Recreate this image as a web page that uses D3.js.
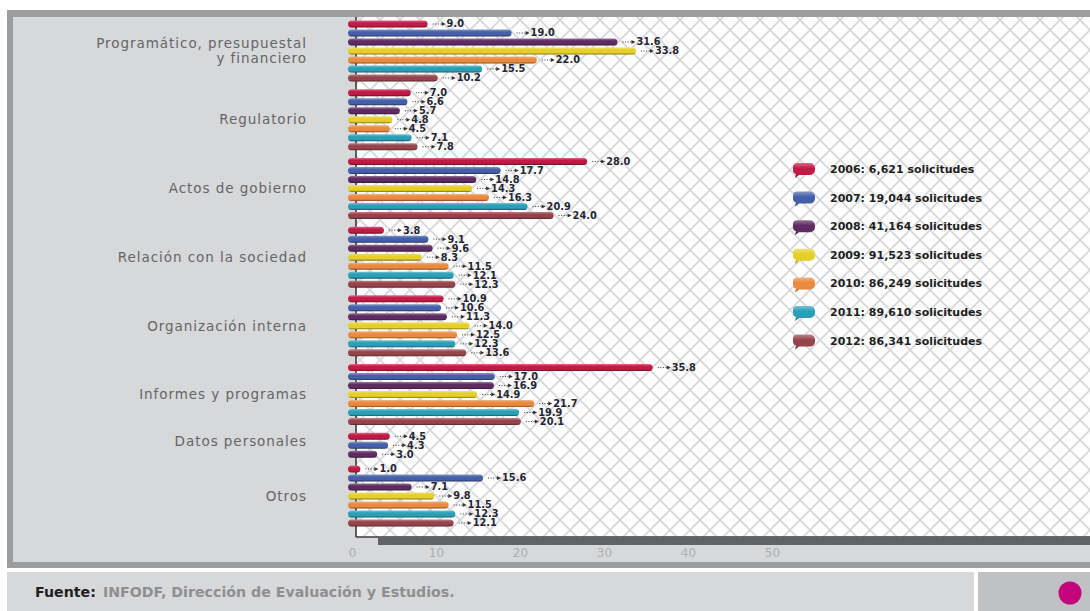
<!DOCTYPE html>
<html>
<head>
<meta charset="utf-8">
<script src="https://cdn.jsdelivr.net/npm/d3@7"></script>
<style>
  html, body { margin: 0; padding: 0; background: #ffffff; }
  svg { display: block; }
</style>
</head>
<body>
<svg id="chart" width="1090" height="611"></svg>
<script>
// Share of requests by subject, per year (percent)
const categories = [
  ["Programático, presupuestal", "y financiero"],
  ["Regulatorio"],
  ["Actos de gobierno"],
  ["Relación con la sociedad"],
  ["Organización interna"],
  ["Informes y programas"],
  ["Datos personales"],
  ["Otros"]
];
const years = ["2006", "2007", "2008", "2009", "2010", "2011", "2012"];
const requests = ["6,621", "19,044", "41,164", "91,523", "86,249", "89,610", "86,341"];
const s2006 = [9.0, 7.0, 28.0, 3.8, 10.9, 35.8, 4.5, 1.0];
const s2007 = [19.0, 6.6, 17.7, 9.1, 10.6, 17.0, 4.3, 15.6];
const s2008 = [31.6, 5.7, 14.8, 9.6, 11.3, 16.9, 3.0, 7.1];
const s2009 = [33.8, 4.8, 14.3, 8.3, 14.0, 14.9, null, 9.8];
const s2010 = [22.0, 4.5, 16.3, 11.5, 12.5, 21.7, null, 11.5];
const s2011 = [15.5, 7.1, 20.9, 12.1, 12.3, 19.9, null, 12.3];
const s2012 = [10.2, 7.8, 24.0, 12.3, 13.6, 20.1, null, 12.1];
const xTicks = [0, 10, 20, 30, 40, 50];
const source = "INFODF, Dirección de Evaluación y Estudios.";

const series = [s2006, s2007, s2008, s2009, s2010, s2011, s2012];
const colors = ["#c01a45", "#4560a8", "#5e2b62", "#e5cf28", "#e98a3e", "#2a9fb8", "#96444c"];

const svg = d3.select("#chart");
const W = 1090, H = 611;

// ---- panels & frame ----
const frameGray = "#9c9d9f";
const panelGray = "#d6d8da";
svg.append("rect").attr("x", 0).attr("y", 0).attr("width", W).attr("height", H).attr("fill", "#fff");
svg.append("rect").attr("x", 7).attr("y", 10).attr("width", W - 7).attr("height", 558).attr("fill", frameGray);
svg.append("rect").attr("x", 13).attr("y", 17).attr("width", W - 13).attr("height", 545).attr("fill", panelGray);

// crosshatch background of the plot
const defs = svg.append("defs");
const pat = defs.append("pattern").attr("id", "hatch")
  .attr("patternUnits", "userSpaceOnUse").attr("width", 20).attr("height", 20);
pat.append("rect").attr("width", 20).attr("height", 20).attr("fill", "#fefefe");
pat.append("path").attr("d", "M0,0L20,20M20,0L0,20")
  .attr("stroke", "#d6d7d9").attr("stroke-width", 1.7).attr("fill", "none");
const soft = defs.append("filter").attr("id", "soft");
soft.append("feGaussianBlur").attr("stdDeviation", 0.55);

const plotL = 356, plotT = 17, plotB = 537;
svg.append("rect").attr("x", plotL).attr("y", plotT).attr("width", W - plotL).attr("height", plotB - plotT)
  .attr("fill", "url(#hatch)").attr("filter", "url(#soft)");

// footer
svg.append("rect").attr("x", 7).attr("y", 572).attr("width", 967).attr("height", 39).attr("fill", panelGray);
svg.append("rect").attr("x", 978).attr("y", 572).attr("width", W - 978).attr("height", 39).attr("fill", "#bfc1c3");
svg.append("circle").attr("cx", 1070).attr("cy", 593).attr("r", 11.5).attr("fill", "#c4057c");
const foot = svg.append("text").attr("x", 35).attr("y", 597)
  .attr("font-family", "'DejaVu Sans', sans-serif").attr("font-weight", "bold").attr("font-size", 14.2);
foot.append("tspan").attr("fill", "#1f1f1f").text("Fuente:");
foot.append("tspan").attr("fill", "#8e8f91").attr("dx", 7).text(source);

// ---- scales ----
const x = d3.scaleLinear().domain([0, 50]).range([352, 772]);

// rows: one per category/year with a value, plus a gap between categories
const gapUnits = 0.635;
const rows = [];
let k = 0;
categories.forEach((c, ci) => {
  series.forEach((s, yi) => {
    if (s[ci] != null) {
      rows.push({ ci, yi, value: s[ci], slot: k + ci * gapUnits });
      k++;
    }
  });
});
const maxSlot = d3.max(rows, d => d.slot);
const y = d3.scaleLinear().domain([0, maxSlot]).range([24, 523]);

// axis frame
svg.append("line").attr("x1", plotL).attr("x2", plotL).attr("y1", plotT).attr("y2", plotB)
  .attr("stroke", "#3a3a3c").attr("stroke-width", 1.6);
svg.append("line").attr("x1", plotL).attr("x2", W).attr("y1", plotB).attr("y2", plotB)
  .attr("stroke", "#3a3a3c").attr("stroke-width", 1.6);
svg.append("rect").attr("x", 378).attr("y", plotB).attr("width", W - 378).attr("height", 8).attr("fill", "#606264");

const axis = svg.append("g").attr("transform", `translate(0,${546})`)
  .call(d3.axisBottom(x).tickValues(xTicks).tickSize(0).tickPadding(2).tickFormat(d3.format("d")));
axis.select(".domain").remove();
axis.selectAll("text").attr("fill", "#aeafb1").attr("font-size", 12)
  .attr("font-family", "'DejaVu Sans', sans-serif");

// gradients giving the bars a rounded, glossy look
colors.forEach((c, i) => {
  const g = defs.append("linearGradient").attr("id", "bar" + i)
    .attr("x1", 0).attr("x2", 0).attr("y1", 0).attr("y2", 1);
  g.append("stop").attr("offset", "0%").attr("stop-color", d3.interpolateRgb(c, "#fff")(0.35));
  g.append("stop").attr("offset", "35%").attr("stop-color", c);
  g.append("stop").attr("offset", "75%").attr("stop-color", c);
  g.append("stop").attr("offset", "100%").attr("stop-color", d3.interpolateRgb(c, "#000")(0.45));
});

// ---- bars ----
const barH = 7;
svg.append("g").selectAll("rect").data(rows).join("rect")
  .attr("x", x(0) - 4)
  .attr("y", d => y(d.slot) - barH / 2)
  .attr("width", d => x(d.value) - x(0) + 4)
  .attr("height", barH)
  .attr("rx", 3.5)
  .attr("fill", d => `url(#bar${d.yi})`);

// ---- value labels with dotted leader and arrow ----
const lab = svg.append("g").selectAll("g").data(rows).join("g")
  .attr("transform", d => `translate(${x(d.value)},${y(d.slot)})`);
lab.append("line").attr("x1", 5).attr("x2", 14).attr("y1", 0).attr("y2", 0)
  .attr("stroke", "#333").attr("stroke-width", 1).attr("stroke-dasharray", "1,1.6");
lab.append("path").attr("d", "M14,-2L18,0L14,2Z").attr("fill", "#333");
lab.append("text").attr("x", 19).attr("y", 0).attr("dy", "0.35em")
  .attr("font-family", "'DejaVu Sans', sans-serif").attr("font-weight", "bold")
  .attr("font-size", 9.8).attr("fill", "#262633")
  .text(d => d3.format(".1f")(d.value));

// ---- category labels ----
categories.forEach((lines, ci) => {
  const r = rows.filter(d => d.ci === ci);
  const mid = (y(r[0].slot) + y(r[r.length - 1].slot)) / 2 + (ci === 6 ? -4 : 0);
  const t = svg.append("text").attr("x", 307).attr("text-anchor", "end")
    .attr("font-family", "'DejaVu Sans', sans-serif").attr("font-size", 13.5)
    .attr("letter-spacing", 0.95).attr("fill", "#646567");
  lines.forEach((ln, li) => {
    t.append("tspan").attr("x", 307)
      .attr("y", mid + (li - (lines.length - 1) / 2) * 15)
      .attr("dy", "0.35em").text(ln);
  });
});

// ---- legend ----
const leg = svg.append("g").selectAll("g").data(years).join("g")
  .attr("transform", (d, i) => `translate(793,${169 + i * 28.6})`);
leg.append("path")
  .attr("d", "M4,-6H17A5,5 0 0 1 22,-1V1A5,5 0 0 1 17,6H6L2,9L3,5A4,4 0 0 1 0,1V-2A4,4 0 0 1 4,-6Z")
  .attr("fill", (d, i) => `url(#bar${i})`);
leg.append("text").attr("x", 37).attr("y", 0).attr("dy", "0.36em")
  .attr("font-family", "'DejaVu Sans', sans-serif").attr("font-weight", "bold")
  .attr("font-size", 11).attr("fill", "#1e1e22")
  .text((d, i) => `${d}: ${requests[i]} solicitudes`);
</script>
</body>
</html>
